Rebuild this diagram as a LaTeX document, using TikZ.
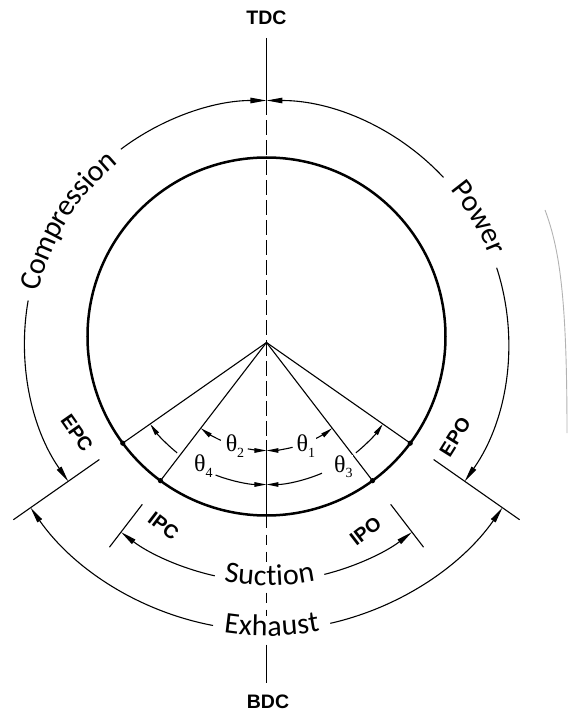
\documentclass[tikz,border=0pt]{standalone}
\usepackage{fontspec}
\setmainfont{Liberation Sans}
\newfontfamily\cycsans{Carlito}
\newfontfamily\cycserif{Liberation Serif}
\usepackage{tikz}
\usetikzlibrary{arrows.meta,decorations.text}
\newcommand\cycbig{\cycsans\fontsize{30}{30}\selectfont}
\newcommand\cycth[1]{θ\raisebox{-5.5pt}{\fontsize{14}{14}\selectfont #1}}
\tikzset{
  cycrim/.style={line width=2.5pt},
  cycray/.style={line width=1.1pt},
  cycmark/.style={line width=1.1pt},
  cycdim/.style={line width=1.1pt},
  cycto/.style={-{Triangle[length=16pt,width=5.5pt]}},
  cycfrom/.style={{Triangle[length=16pt,width=5.5pt]}-},
  cycthto/.style={-{Triangle[length=12pt,width=4.5pt]}},
  cycthfrom/.style={{Triangle[length=12pt,width=4.5pt]}-},
  cycaxis/.style={line width=1.1pt},
  cycdash/.style={cycaxis,dash pattern=on 15pt off 5pt},
  cyclabel/.style={font=\bfseries\fontsize{19.5}{19.5}\selectfont,inner sep=1pt},
  cyctheta/.style={font=\cycserif\fontsize{24}{24}\selectfont,fill=white,inner sep=0.5pt},
  cycword/.style={decorate,decoration={text along path,text align=center,raise=#1}},
}

\begin{document}
\begin{tikzpicture}[x=1pt,y=1pt]
\useasboundingbox (-266.5,-372.5) rectangle (301.5,342.5);
\coordinate (H) at (0,0);
\coordinate (C) at (0,6);
\coordinate (eo) at (-35:175.5);
\coordinate (ec) at (-145:175.5);
\coordinate (io) at (-52.5:174.2);
\coordinate (ic) at (-127.5:174.2);
\draw[cycrim] (C) circle (179);
\foreach \p in {eo,ec,io,ic}{
  \draw[cycray] (H) -- (\p);
  \fill (\p) circle (2.6);
}
% centre line TDC -- BDC
\coordinate (ax1) at (0,304.5);
\coordinate (ax2) at (0,242);
\coordinate (ax3) at (0,-97.5);
\coordinate (ax4) at (0,-175);
\coordinate (ax5) at (0,-222);
\coordinate (ax6) at (0,-250);
\coordinate (ax7) at (0,-273);
\coordinate (ax8) at (0,-302);
\coordinate (ax9) at (0,-340.5);
\draw[cycaxis] (ax1) -- (ax2);
\draw[cycdash] (ax2) -- (ax3);
\draw[cycaxis] (ax3) -- (ax4);
\draw[cycaxis,dash pattern=on 10pt off 7pt] (ax4) -- (ax5);
\draw[cycaxis,dash pattern=on 10pt off 7pt] (ax6) -- (ax7);
\draw[cycaxis] (ax8) -- (ax9);
% port ticks
\draw[cycmark] (-35:204) -- (-35:309);
\draw[cycmark] (-145:204) -- (-145:309);
\draw[cycmark] (-52.5:204) -- (-52.5:258);
\draw[cycmark] (-127.5:204) -- (-127.5:258);
% strokes
\draw[cycdim,cycfrom] (90:242) arc[start angle=90,end angle=127,radius=242];
\draw[cycdim,cycto] (170:242) arc[start angle=170,end angle=215,radius=242];
\path[cycword=-9pt,decoration={text={|\cycbig|Compression}}] (170:242) arc[start angle=170,end angle=127,radius=242];
\draw[cycdim,cycfrom] (90:242) arc[start angle=90,end angle=43,radius=242];
\draw[cycdim,cycto] (18:242) arc[start angle=18,end angle=-35,radius=242];
\path[cycword=-3pt,decoration={text={|\cycbig|Power}}] (43:242) arc[start angle=43,end angle=18,radius=242];
\draw[cycdim,cycto] (-102.5:239) arc[start angle=-102.5,end angle=-127.5,radius=239];
\draw[cycdim,cycto] (-76:239) arc[start angle=-76,end angle=-52.5,radius=239];
\path[cycword=-4pt,decoration={text={|\cycbig|Suction}}] (-102.5:239) arc[start angle=-102.5,end angle=-76,radius=239];
\draw[cycdim,cycto] (-100.7:288) arc[start angle=-100.7,end angle=-145,radius=288];
\draw[cycdim,cycto] (-77.2:288) arc[start angle=-77.2,end angle=-35,radius=288];
\path[cycword=-5.5pt,decoration={text={|\cycbig|Exhaust}}] (-100.7:288) arc[start angle=-100.7,end angle=-77.2,radius=288];
% angles
\draw[cycdim,cycthfrom] (-90:108) arc[start angle=-90,end angle=-76,radius=108];
\draw[cycdim,cycthto] (-63:108) arc[start angle=-63,end angle=-52.5,radius=108];
\draw[cycdim,cycthfrom] (-90:108) arc[start angle=-90,end angle=-100,radius=108];
\draw[cycdim,cycthto] (-115:108) arc[start angle=-115,end angle=-127.5,radius=108];
\draw[cycdim,cycthfrom] (-90:142) arc[start angle=-90,end angle=-67,radius=142];
\draw[cycdim,cycthto] (-51:142) arc[start angle=-51,end angle=-35,radius=142];
\draw[cycdim,cycthfrom] (-90:142) arc[start angle=-90,end angle=-111,radius=142];
\draw[cycdim,cycthto] (-129:142) arc[start angle=-129,end angle=-145,radius=142];
\node[cyctheta] (th1) at (39.3,-103.5) {\cycth{1}};
\node[cyctheta] (th2) at (-31.5,-103.5) {\cycth{2}};
\node[cyctheta] (th3) at (76.8,-124.2) {\cycth{3}};
\node[cyctheta] (th4) at (-63.2,-123.5) {\cycth{4}};
% labels
\node[cyclabel] (tdc) at (0,324.5) {TDC};
\node[cyclabel] (bdc) at (1.5,-359) {BDC};
\node[cyclabel,rotate=-55] (epc) at (-189.5,-90.5) {EPC};
\node[cyclabel,rotate=58] (epo) at (188.5,-94.5) {EPO};
\node[cyclabel,rotate=-37.5] (ipc) at (-103,-183.5) {IPC};
\node[cyclabel,rotate=37.5] (ipo) at (99,-188.5) {IPO};
\draw[gray!60,line width=0.9pt] (278.5,132.5) .. controls (293.5,92.5) and (300.5,42.5) .. (300.5,-90.5);
\end{tikzpicture}
\end{document}
